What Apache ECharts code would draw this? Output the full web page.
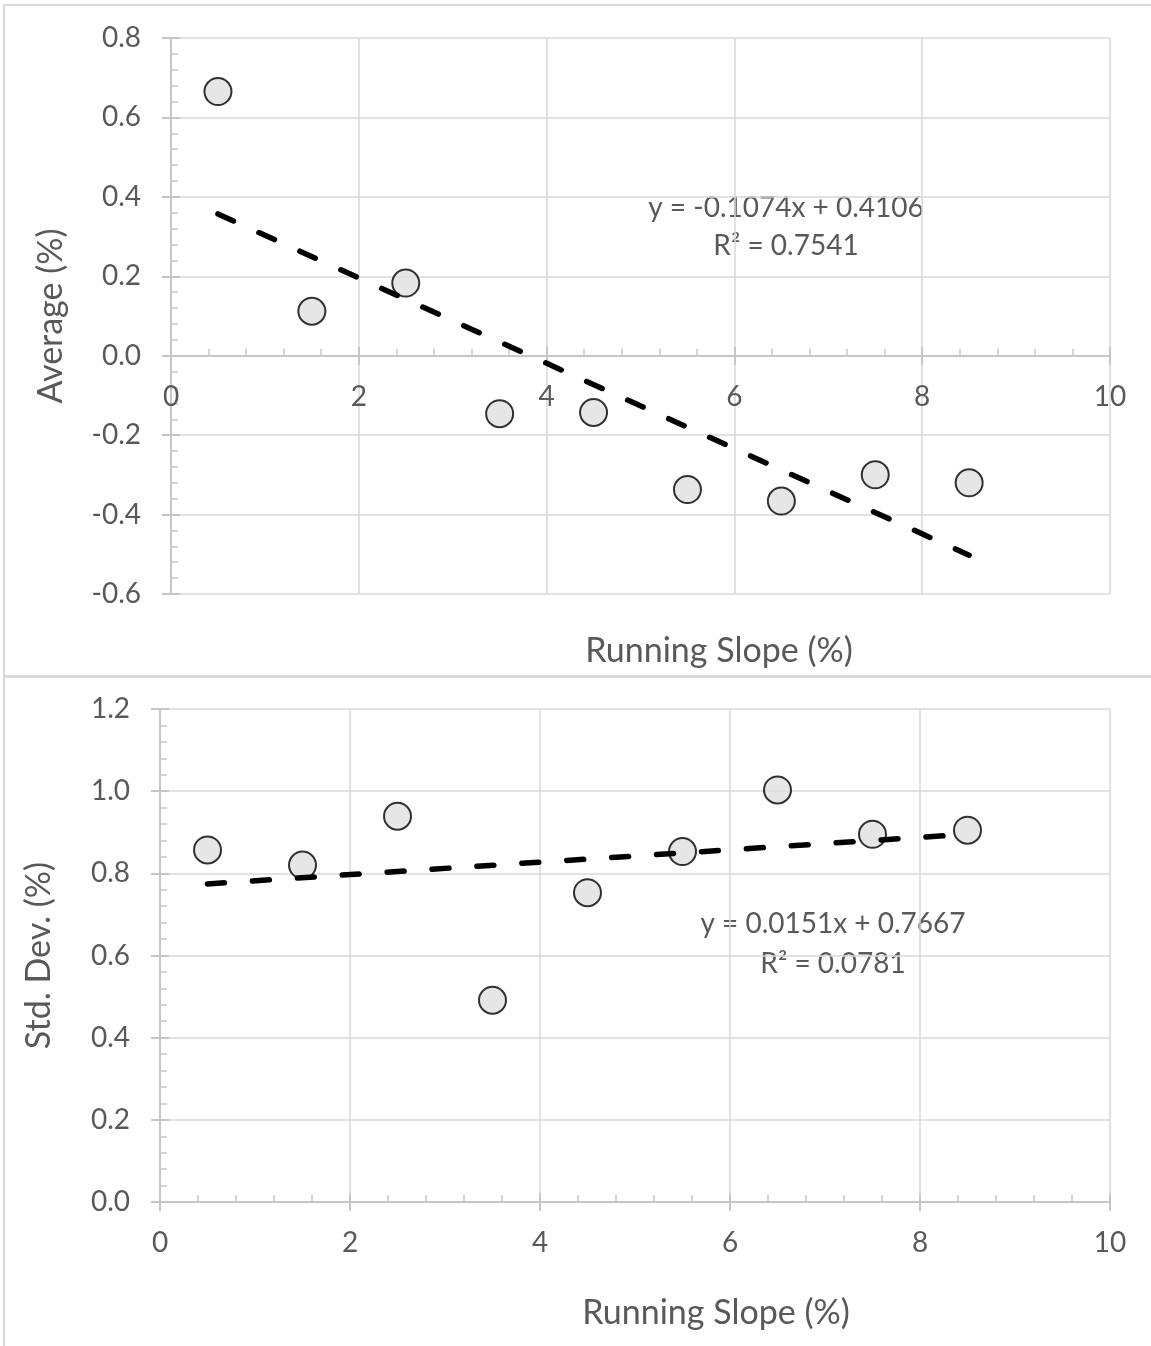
<!DOCTYPE html>
<html>
<head>
<meta charset="utf-8">
<title>Running slope</title>
<script src="https://cdn.jsdelivr.net/npm/echarts@6/dist/echarts.min.js"></script>
<style>
  html, body { margin: 0; padding: 0; background: #fff; }
  #chart { width: 1151px; height: 1346px; }
</style>
</head>
<body>
<div id="chart"></div>
<script>
// running slope (%) of each group
const slopeX = [0.5, 1.5, 2.5, 3.5, 4.5, 5.5, 6.5, 7.5, 8.5]
// average (%)
const avgY = [0.665, 0.112, 0.183, -0.146, -0.143, -0.337, -0.366, -0.300, -0.320]
// std. dev. (%)
const stdY = [0.857, 0.820, 0.939, 0.491, 0.753, 0.853, 1.003, 0.895, 0.905]
// linear trendline end points
const trendX = [0.5, 8.5]
const avgTrend = [0.3569, -0.5023]
const stdTrend = [0.7743, 0.8951]
const avgEquation = ['y = -0.1074x + 0.4106', 'R² = 0.7541']
const stdEquation = ['y = 0.0151x + 0.7667', 'R² = 0.0781']

const FONT = 'Lato'
const TXT = '#595959'
const GRID_LINE = '#d9d9d9'
const AXIS_LINE = '#c6c6c6'

// top plot: y = 0 sits 317.7px below the grid top, 238.3px above its bottom
const TOP_ZERO_OFFSET = -238.3

const pairs = (xs, ys) => xs.map((x, i) => [x, ys[i]])

// main axis: line, labels, inside ticks + minor ticks
function mainAxis(opt) {
  return Object.assign({
    type: 'value',
    axisLine: { show: true, onZero: false, lineStyle: { color: AXIS_LINE, width: 2 } },
    axisTick: { show: true, inside: true, length: 9, lineStyle: { color: AXIS_LINE, width: 2 } },
    minorTick: { show: true, splitNumber: 5, length: 7, lineStyle: { color: AXIS_LINE, width: 1.5 } },
    splitLine: { show: true, lineStyle: { color: GRID_LINE, width: 1.5 } },
    axisLabel: { color: TXT, fontFamily: FONT, fontSize: 28, margin: 27 },
    nameLocation: 'middle',
    nameTextStyle: { color: TXT, fontFamily: FONT, fontSize: 34 }
  }, opt)
}
// twin axis: only the outer half of the major ticks
function tickAxis(opt) {
  return Object.assign({
    type: 'value',
    axisLine: { show: false, onZero: false },
    axisTick: { show: true, inside: false, length: 9, lineStyle: { color: AXIS_LINE, width: 2 } },
    splitLine: { show: false },
    axisLabel: { show: false }
  }, opt)
}

const yLabel = { color: TXT, fontFamily: FONT, fontSize: 28, margin: 30, formatter: v => v.toFixed(1) }
// x titles sit right of the plot centre in the original
const xName = shift => ({ color: TXT, fontFamily: FONT, fontSize: 34, padding: [0, 0, 0, shift] })

const chart = echarts.init(document.getElementById('chart'))

const markerStyle = { color: '#e0e0e0', borderColor: '#000', borderWidth: 2 }
const trendStyle = { color: '#000', width: 5.5, type: [17, 28], cap: 'round' }
const eqFont = '28px Lato'

chart.setOption({
  animation: false,
  grid: [
    { left: 171, top: 38, width: 939, height: 556, outerBoundsMode: 'none' },
    { left: 160, top: 709, width: 950, height: 493, outerBoundsMode: 'none' }
  ],
  xAxis: [
    mainAxis({ gridIndex: 0, min: 0, max: 10, interval: 2, position: 'bottom', offset: TOP_ZERO_OFFSET,
      name: 'Running Slope (%)', nameGap: 278, nameTextStyle: xName(157) }),
    tickAxis({ gridIndex: 0, min: 0, max: 10, interval: 2, position: 'bottom', offset: TOP_ZERO_OFFSET }),
    mainAxis({ gridIndex: 1, min: 0, max: 10, interval: 2, position: 'bottom',
      name: 'Running Slope (%)', nameGap: 94, nameTextStyle: xName(162) }),
    tickAxis({ gridIndex: 1, min: 0, max: 10, interval: 2, position: 'bottom' })
  ],
  yAxis: [
    mainAxis({ gridIndex: 0, min: -0.6, max: 0.8, interval: 0.2, position: 'left',
      name: 'Average (%)', nameGap: 103, axisLabel: yLabel }),
    tickAxis({ gridIndex: 0, min: -0.6, max: 0.8, interval: 0.2, position: 'left' }),
    mainAxis({ gridIndex: 1, min: 0, max: 1.2, interval: 0.2, position: 'left',
      name: 'Std. Dev. (%)', nameGap: 104, axisLabel: yLabel }),
    tickAxis({ gridIndex: 1, min: 0, max: 1.2, interval: 0.2, position: 'left' })
  ],
  series: [
    {
      type: 'scatter', xAxisIndex: 0, yAxisIndex: 0,
      data: pairs(slopeX, avgY), symbolSize: 27, itemStyle: markerStyle, z: 2
    },
    {
      type: 'line', xAxisIndex: 0, yAxisIndex: 0,
      data: pairs(trendX, avgTrend), symbol: 'none', lineStyle: trendStyle, z: 3
    },
    {
      type: 'scatter', xAxisIndex: 2, yAxisIndex: 2,
      data: pairs(slopeX, stdY), symbolSize: 27, itemStyle: markerStyle, z: 2
    },
    {
      type: 'line', xAxisIndex: 2, yAxisIndex: 2,
      data: pairs(trendX, stdTrend), symbol: 'none', lineStyle: trendStyle, z: 3
    }
  ],
  graphic: [
    // chart area borders
    { type: 'rect', shape: { x: 4, y: 5, width: 1170, height: 671 },
      style: { fill: 'none', stroke: '#d9d9d9', lineWidth: 2 }, silent: true },
    { type: 'rect', shape: { x: 4, y: 677, width: 1170, height: 690 },
      style: { fill: 'none', stroke: '#d9d9d9', lineWidth: 2 }, silent: true },
    // trendline labels
    { type: 'text', x: 786, y: 208, style: { text: avgEquation[0], fill: TXT, font: eqFont, align: 'center', verticalAlign: 'middle' } },
    { type: 'text', x: 786, y: 246, style: { text: avgEquation[1], fill: TXT, font: eqFont, align: 'center', verticalAlign: 'middle' } },
    { type: 'text', x: 833, y: 924, style: { text: stdEquation[0], fill: TXT, font: eqFont, align: 'center', verticalAlign: 'middle' } },
    { type: 'text', x: 833, y: 964, style: { text: stdEquation[1], fill: TXT, font: eqFont, align: 'center', verticalAlign: 'middle' } }
  ]
})
</script>
</body>
</html>
